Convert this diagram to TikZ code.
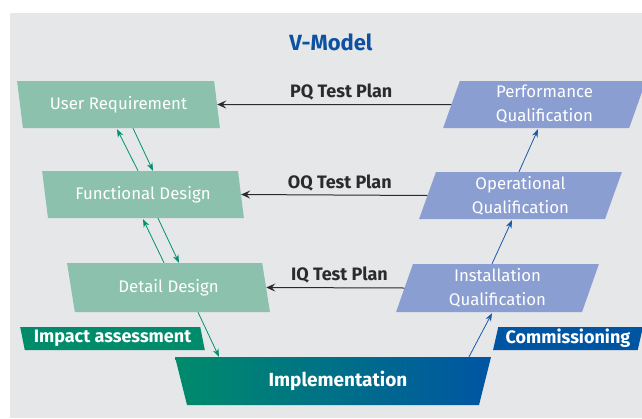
\documentclass[tikz,border=0pt]{standalone}
\usepackage{fontspec}
\setmainfont{Fira Sans}
\usetikzlibrary{shapes.geometric,arrows.meta,calc}
\definecolor{bgc}{HTML}{E6E7E9}
\definecolor{lgreen}{HTML}{8CC2AD}
\definecolor{lblue}{HTML}{8B9ED2}
\definecolor{dgreen}{HTML}{008B6B}
\definecolor{dblue}{HTML}{0055A3}
\definecolor{titleblue}{HTML}{0D51A0}
\definecolor{agreen}{HTML}{00926F}
\definecolor{ablue}{HTML}{1A58A8}
\definecolor{ablack}{HTML}{2B2B2B}
\begin{document}
\begin{tikzpicture}[x=1pt,y=-1pt,
  box/.style={trapezium, trapezium stretches=true, inner sep=0pt, text=white, align=center,
    font=\fontsize{16.8}{24}\selectfont},
  greenbox/.style={box, fill=lgreen, trapezium left angle=104, trapezium right angle=76,
    minimum width=203pt, minimum height=47pt},
  bluebox/.style={box, fill=lblue, trapezium left angle=76, trapezium right angle=104,
    minimum width=203pt, minimum height=47pt},
  tagbox/.style={trapezium, trapezium stretches=true, inner sep=0pt, text=white,
    font=\fontsize{18}{20}\bfseries\selectfont, minimum height=23pt},
  garrow/.style={agreen, line width=0.8pt, -{Stealth[length=8pt,width=6pt]}},
  barrow/.style={ablue, line width=0.8pt, -{Stealth[length=8pt,width=6pt]}},
  karrow/.style={ablack, line width=1pt, -{Stealth[length=9pt,width=8pt,inset=3.5pt]}},
  lbl/.style={font=\fontsize{18}{20}\bfseries\selectfont, text=ablack}
]
\useasboundingbox (0,0) rectangle (642,418);
\fill[bgc] (10,13) rectangle (642,418);

\node[font=\fontsize{22}{24}\bfseries\selectfont, text=titleblue] (title) at (331,42) {V-Model};

\node[greenbox] (ur) at (118.5,104.5) {User Requirement};
\node[greenbox, minimum width=202pt] (fd) at (143,194.5) {Functional Design};
\node[greenbox, minimum height=49pt] (dd) at (168.5,287.5) {Detail Design};

\node[bluebox] (pq) at (544.5,104.5) {Performance\\Qualification};
\node[bluebox] (oq) at (520.5,195.5) {Operational\\Qualification};
\node[bluebox, minimum height=48pt] (iq) at (497.5,288) {Installation\\Qualification};

\node[tagbox, fill=dgreen, trapezium left angle=104, trapezium right angle=76,
  minimum width=185pt] (ia) at (112.5,338.5) {Impact assessment};
\node[tagbox, fill=dblue, trapezium left angle=76, trapezium right angle=104,
  minimum width=150pt] (cm) at (568,338.5) {Commissioning};

\shade[left color=dgreen, right color=dblue] (175,357) -- (491,357) -- (479,405) -- (187,405) -- cycle;
\node[rectangle, inner sep=0pt, minimum width=316pt, minimum height=48pt] (impl) at (333,381) {};
\node[text=white, font=\fontsize{19}{20}\bfseries\selectfont] (impltext) at (338,381) {Implementation};

\draw[karrow] (pq.west) -- node[lbl, above=0.5pt, pos=0.47] (pql) {PQ Test Plan} (ur.east);
\draw[karrow] (oq.west) -- node[lbl, above=0.5pt, pos=0.47] (oql) {OQ Test Plan} (fd.east);
\draw[karrow] (iq.west) -- node[lbl, above=0.5pt, pos=0.47] (iql) {IQ Test Plan} (dd.east);

\draw[garrow] ($(fd.north)+(-5,0)$) -- ($(ur.south)+(-1.5,1)$);
\draw[garrow] ($(ur.south)+(14.5,0)$) -- ($(fd.north)+(10,0)$);
\draw[garrow] ($(dd.north)+(-4.5,0)$) -- ($(fd.south)+(0,1)$);
\draw[garrow] ($(fd.south)+(15,0)$) -- ($(dd.north)+(10.5,0)$);
\draw[garrow] ($(dd.south)+(29.5,0)$) -- ($(impl.north)+(-114,0)$);

\draw[barrow] ($(impl.north)+(136,0)$) -- ($(iq.south)+(-5.5,1)$);
\draw[barrow] ($(iq.north)+(-5.5,0)$) -- ($(oq.south)+(-8.5,1)$);
\draw[barrow] ($(oq.north)+(-1.5,0)$) -- ($(pq.south)+(-6.5,1)$);
\end{tikzpicture}
\end{document}
